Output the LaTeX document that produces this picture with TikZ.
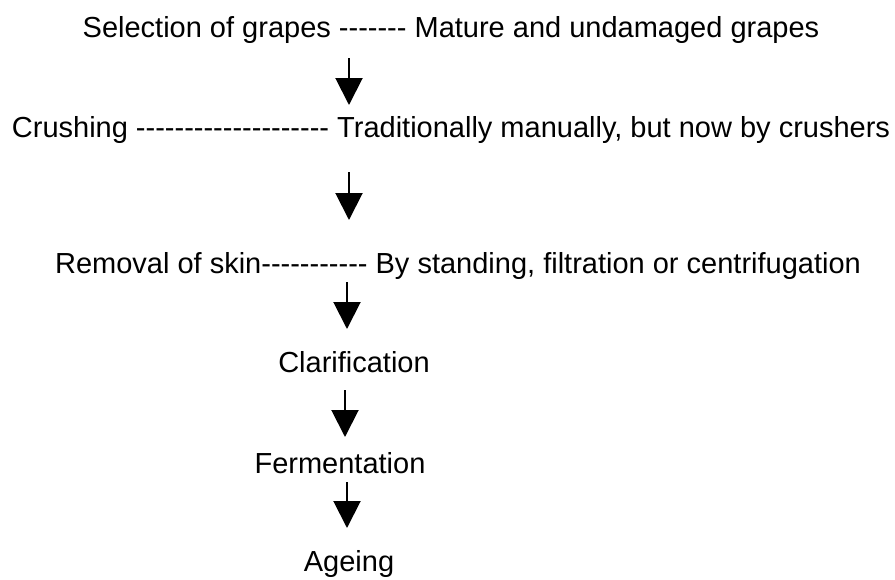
\documentclass[tikz,border=0pt]{standalone}
\usepackage{fontspec}
\setmainfont{Liberation Sans}[Ligatures=TeXOff]
\usetikzlibrary{arrows.meta}

\tikzset{
  lbl/.style={anchor=base,inner sep=0pt,font=\fontsize{29}{35}\selectfont},
  flow/.style={line width=2pt,-{Triangle[width=27pt,length=27pt]}}
}

\begin{document}
\begin{tikzpicture}[x=1pt,y=-1pt]
   \useasboundingbox (0,0) rectangle (895,579);
   \node[lbl] (sel) at (451,37) {Selection of grapes ------- Mature and undamaged grapes};
   \node[lbl] (crush) at (451,137) {Crushing -------------------- Traditionally manually, but now by crushers};
   \node[lbl] (skin) at (458,273) {Removal of skin----------- By standing, filtration or centrifugation};
   \node[lbl] (clar) at (354,372) {Clarification};
   \node[lbl] (ferm) at (340,473) {Fermentation};
   \node[lbl] (age) at (349,571) {Ageing};
   % arrow ends
   \coordinate (a1) at (349,58);  \coordinate (b1) at (349,105);
   \coordinate (a2) at (349,172); \coordinate (b2) at (349,220);
   \coordinate (a3) at (347,282); \coordinate (b3) at (347,329);
   \coordinate (a4) at (345,390); \coordinate (b4) at (345,437);
   \coordinate (a5) at (347,482); \coordinate (b5) at (347,528);
   \foreach \i in {1,...,5}
     \draw[flow] (a\i) -- (b\i);
\end{tikzpicture}
\end{document}
